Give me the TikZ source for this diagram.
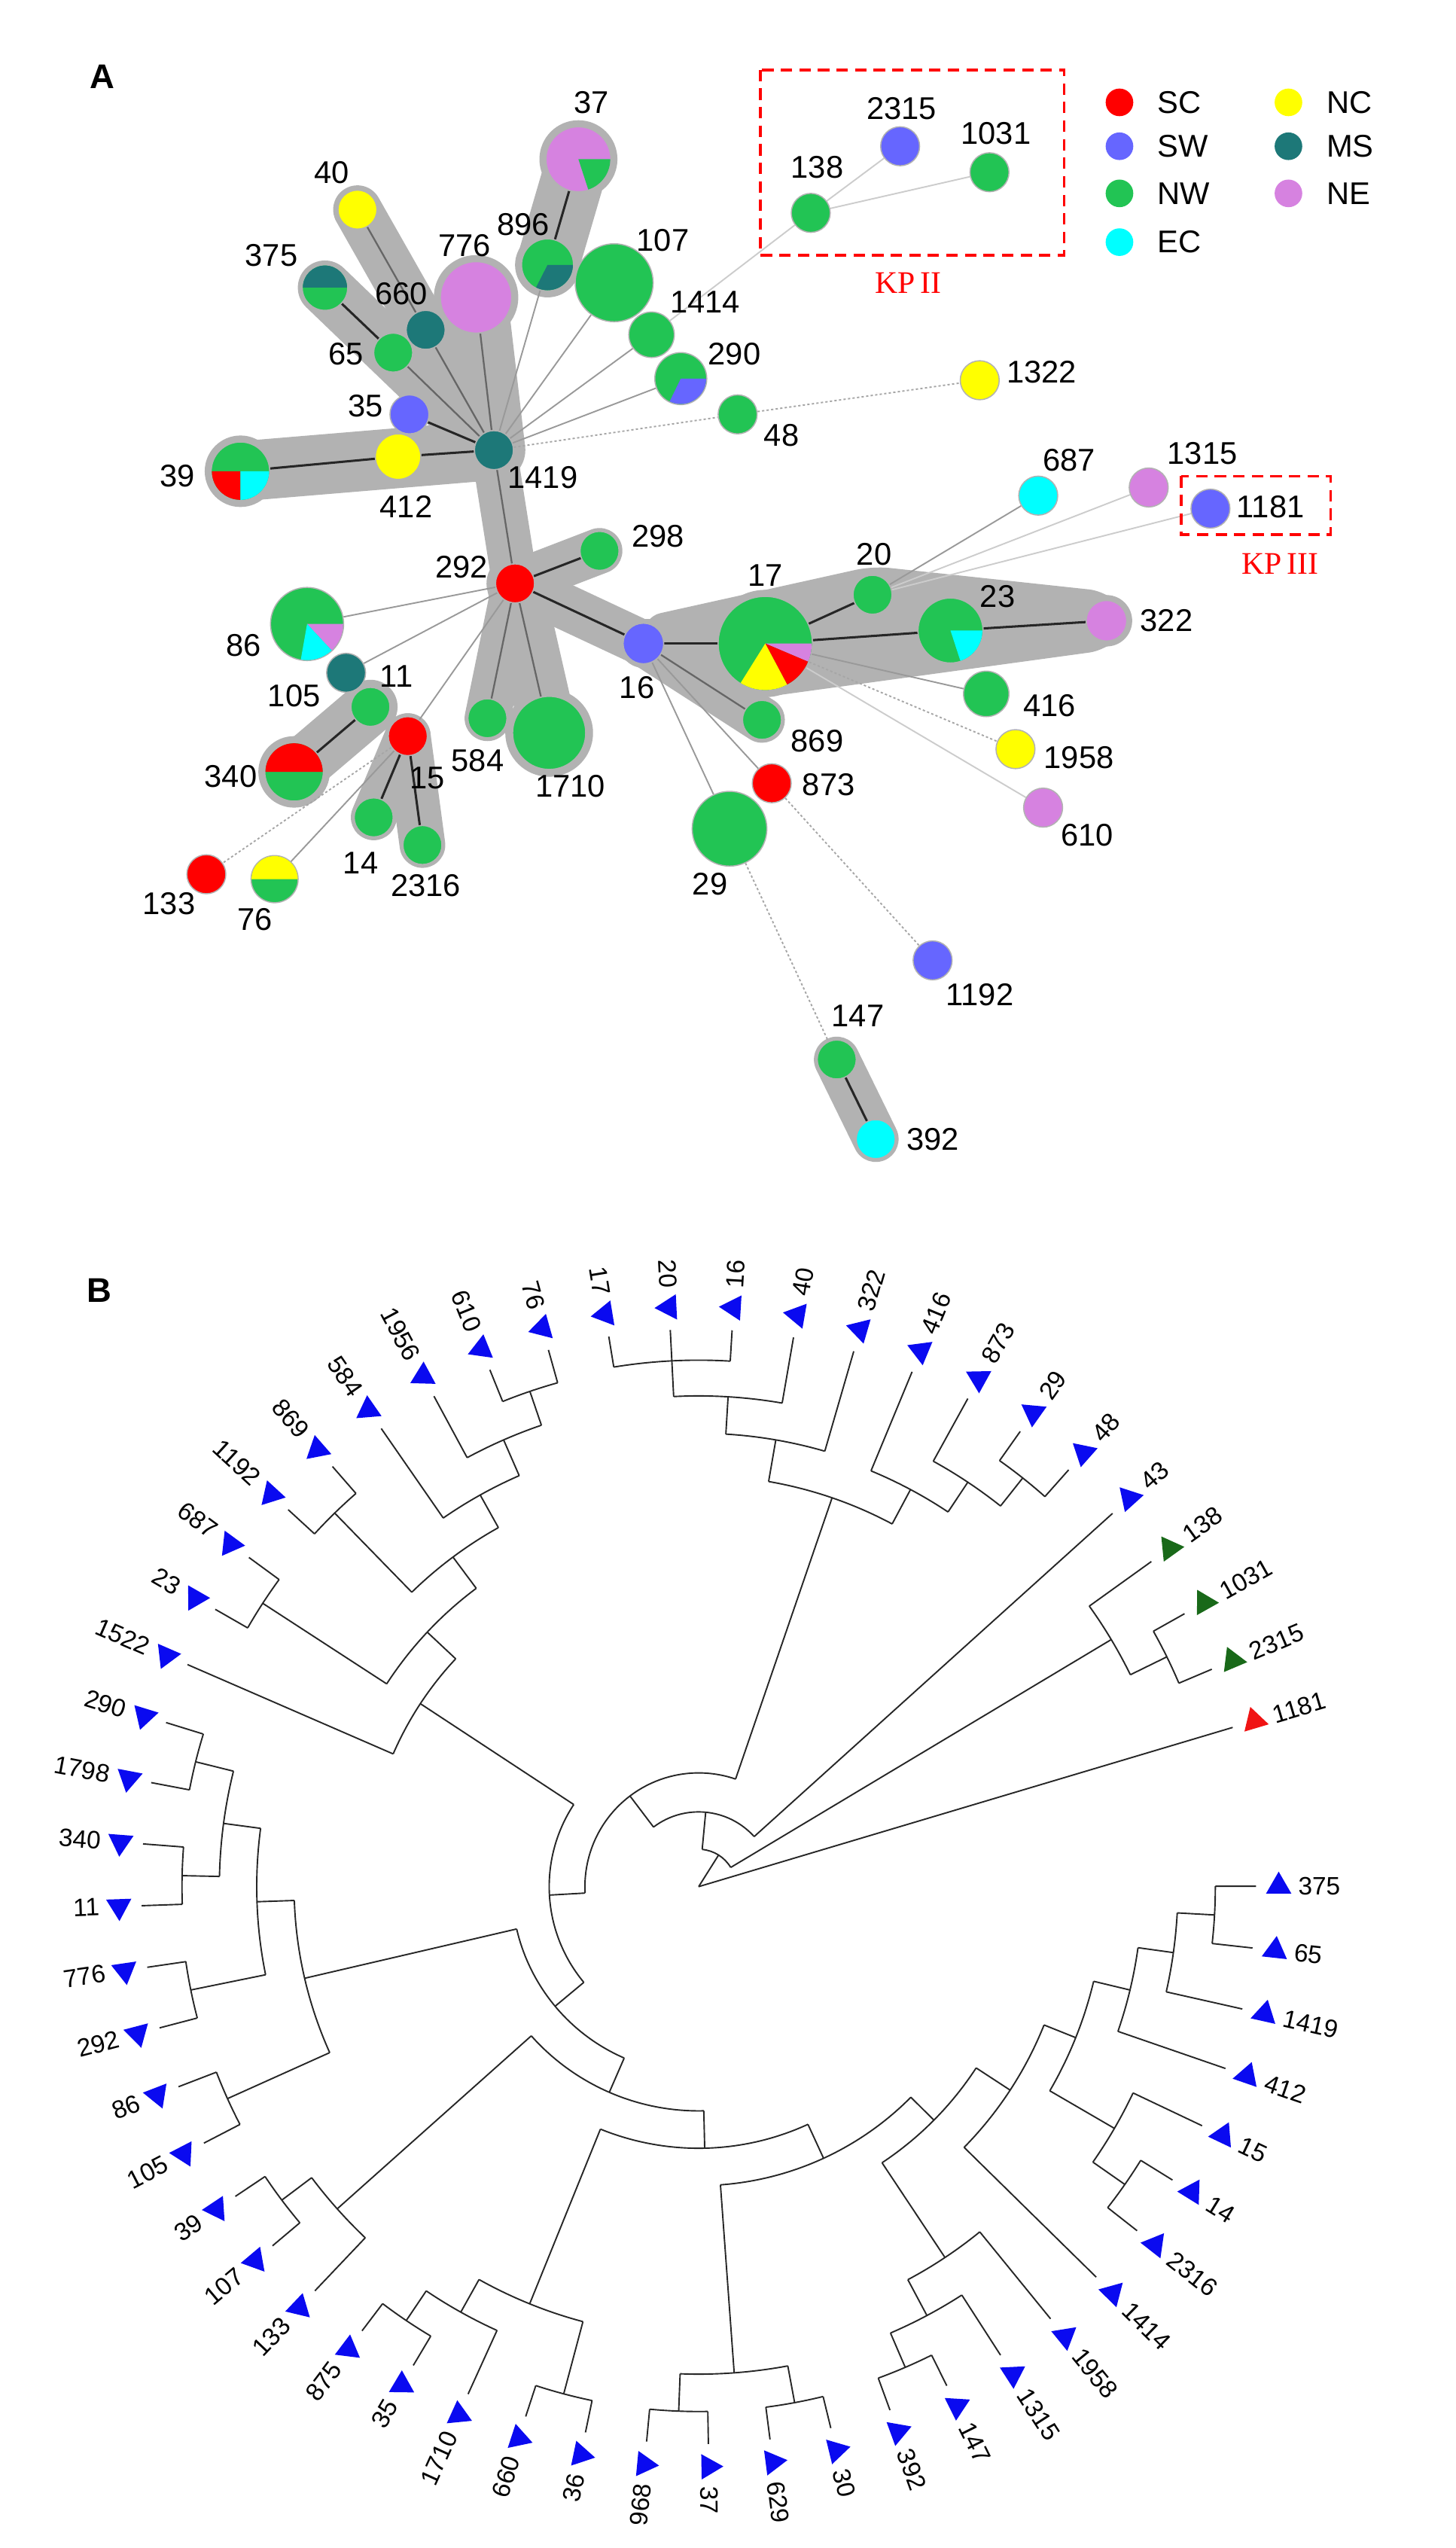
\documentclass[tikz,border=0pt]{standalone}
\usepackage{fontspec}
\setmainfont{Liberation Sans}
\newfontfamily\kpfont{Liberation Serif}
\usepackage{tikz}
\usetikzlibrary{shapes.geometric,positioning}
\definecolor{colSC}{RGB}{255,0,0}
\definecolor{colSW}{RGB}{102,102,255}
\definecolor{colNW}{RGB}{34,196,84}
\definecolor{colEC}{RGB}{0,255,255}
\definecolor{colNC}{RGB}{255,255,0}
\definecolor{colMS}{RGB}{29,120,120}
\definecolor{colNE}{RGB}{214,130,224}
\definecolor{trB}{RGB}{10,10,240}
\definecolor{trG}{RGB}{25,105,25}
\definecolor{trR}{RGB}{240,20,20}
\pgfdeclarelayer{bands}
\pgfdeclarelayer{links}
\pgfsetlayers{bands,links,main}
\newcommand{\piepart}[5]{\fill[#2] (#1.center) -- ++(#3:#5) arc[start angle=#3,end angle=#4,radius=#5] -- cycle;}

\begin{document}
\begin{tikzpicture}[x={(0.02cm,0)},y={(0,-0.02cm)},font=\fontsize{11}{13}\selectfont,
  stn/.style={circle,draw=black!30,line width=0.4pt,inner sep=0pt,minimum size=#1},
  lbl/.style={inner sep=1pt},
  lnk/.style={black!85,line width=0.8pt},
  lnkm/.style={black!60,line width=0.6pt},
  lnkg/.style={black!40,line width=0.5pt},
  lnkl/.style={black!20,line width=0.5pt},
  lnkd/.style={black!35,line width=0.5pt,dash pattern=on 0.8pt off 0.8pt},
  band/.style={draw=gray!60,line width=#1,line cap=round},
  kpbox/.style={draw=red,line width=0.9pt,dash pattern=on 4pt off 2.5pt},
  kplab/.style={text=red,font=\kpfont\fontsize{11}{13}\selectfont},
  legdot/.style={circle,inner sep=0pt,minimum size=0.34cm},
  treeline/.style={black!85,line width=0.5pt},
  tri/.style={regular polygon,regular polygon sides=3,inner sep=0pt,minimum size=0.36cm},
  leaf/.style={font=\fontsize{8.8}{10}\selectfont,inner sep=1pt}]
\useasboundingbox (0,0) rectangle (896,1568);
\node[font=\fontsize{12}{14}\selectfont\bfseries] (pA) at (63,47) {A};
\node[font=\fontsize{12}{14}\selectfont\bfseries] (pB) at (61,794) {B};
% ---------- panel A: stations
\node[stn=0.80cm,fill=colNE] (st37) at (356,98) {};
\node[stn=0.48cm,fill=colNC] (st40) at (220,129) {};
\node[stn=0.56cm,fill=colNW] (st375) at (200,177) {};
\node[stn=0.48cm,fill=colMS] (st660) at (262,203) {};
\node[stn=0.88cm,fill=colNE] (st776) at (293,183) {};
\node[stn=0.64cm,fill=colNW] (st896) at (337,163) {};
\node[stn=0.96cm,fill=colNW] (st107) at (378,174) {};
\node[stn=0.56cm,fill=colNW] (st1414) at (401,206) {};
\node[stn=0.48cm,fill=colNW] (st65) at (242,217) {};
\node[stn=0.64cm,fill=colNW] (st290) at (419,233) {};
\node[stn=0.48cm,fill=colNW] (st48) at (454,255) {};
\node[stn=0.48cm,fill=colSW] (st35) at (252,255) {};
\node[stn=0.56cm,fill=colNC] (st412) at (245,281) {};
\node[stn=0.48cm,fill=colMS] (st1419) at (304,277) {};
\node[stn=0.72cm,fill=colNW] (st39) at (148,290) {};
\node[stn=0.48cm,fill=colSC] (st292) at (317,359) {};
\node[stn=0.48cm,fill=colNW] (st298) at (369,339) {};
\node[stn=0.48cm,fill=colNW] (st138) at (499,131) {};
\node[stn=0.48cm,fill=colSW] (st2315) at (554,90) {};
\node[stn=0.48cm,fill=colNW] (st1031) at (609,106) {};
\node[stn=0.48cm,fill=colNC] (st1322) at (603,234) {};
\node[stn=0.48cm,fill=colEC] (st687) at (639,305) {};
\node[stn=0.48cm,fill=colNE] (st1315) at (707,300) {};
\node[stn=0.48cm,fill=colSW] (st1181) at (745,313) {};
\node[stn=0.48cm,fill=colNW] (st20) at (537,366) {};
\node[stn=1.16cm,fill=colNW] (st17) at (471,396) {};
\node[stn=0.50cm,fill=colSW] (st16) at (396,396) {};
\node[stn=0.80cm,fill=colNW] (st23) at (585,388) {};
\node[stn=0.50cm,fill=colNE] (st322) at (681,382) {};
\node[stn=0.56cm,fill=colNW] (st416) at (607,427) {};
\node[stn=0.48cm,fill=colNW] (st869) at (469,443) {};
\node[stn=0.48cm,fill=colNC] (st1958) at (625,461) {};
\node[stn=0.48cm,fill=colSC] (st873) at (475,482) {};
\node[stn=0.48cm,fill=colNE] (st610) at (642,497) {};
\node[stn=0.92cm,fill=colNW] (st29) at (449,510) {};
\node[stn=0.48cm,fill=colSW] (st1192) at (574,591) {};
\node[stn=0.48cm,fill=colNW] (st147) at (515,652) {};
\node[stn=0.48cm,fill=colEC] (st392) at (539,701) {};
\node[stn=0.90cm,fill=colNW] (st86) at (189,384) {};
\node[stn=0.48cm,fill=colMS] (st105) at (213,414) {};
\node[stn=0.48cm,fill=colNW] (st11) at (228,435) {};
\node[stn=0.72cm,fill=colNW] (st340) at (181,475) {};
\node[stn=0.48cm,fill=colSC] (st15) at (251,453) {};
\node[stn=0.48cm,fill=colNW] (st584) at (300,442) {};
\node[stn=0.90cm,fill=colNW] (st1710) at (338,451) {};
\node[stn=0.48cm,fill=colNW] (st14) at (230,503) {};
\node[stn=0.48cm,fill=colNW] (st2316) at (260,520) {};
\node[stn=0.48cm,fill=colSC] (st133) at (127,538) {};
\node[stn=0.58cm,fill=colNW] (st76) at (169,541) {};
% pie slices
\piepart{st37}{colNW}{0}{72}{19.6}
\piepart{st896}{colMS}{0}{117}{15.6}
\piepart{st375}{colMS}{180}{360}{13.6}
\piepart{st290}{colSW}{0}{116}{15.6}
\piepart{st39}{colSC}{90}{180}{17.6}
\piepart{st39}{colEC}{0}{90}{17.6}
\piepart{st17}{colNE}{0}{23}{28.6}
\piepart{st17}{colSC}{23}{62}{28.6}
\piepart{st17}{colNC}{62}{122}{28.6}
\piepart{st23}{colEC}{0}{72}{19.6}
\piepart{st86}{colNE}{0}{47}{22.2}
\piepart{st86}{colEC}{47}{100}{22.2}
\piepart{st340}{colSC}{180}{360}{17.6}
\piepart{st76}{colNC}{180}{360}{14.2}
% labels
\foreach \nm/\px/\py in {37/364/63,40/204/106,375/167/157,660/247/181,65/213/218,776/286/151,
  896/322/138,107/408/148,1414/434/186,290/452/218,48/481/268,35/225/250,412/250/312,
  1419/334/294,39/109/293,292/284/349,298/405/330,2315/555/67,1031/613/82,138/503/103,
  1322/641/229,687/658/283,1315/740/279,1181/782/312,20/538/341,17/471/354,16/392/423,
  23/614/367,322/718/382,416/646/434,869/503/456,1958/664/466,873/510/483,610/669/514,
  29/437/544,1192/603/612,147/528/625,392/574/701,86/150/397,105/181/428,11/244/416,
  340/142/478,15/263/479,584/294/468,1710/351/484,14/222/531,2316/262/545,133/104/556,76/157/566}
  \node[lbl] (lb\nm) at (\px,\py) {\nm};
% links
\begin{pgfonlayer}{links}
\foreach \u/\v in {37/896,375/65,35/1419,412/1419,39/412,292/298,16/17,17/20,17/23,23/322,
  11/340,15/14,15/2316,147/392,292/16}
  \draw[lnk] (st\u) -- (st\v);
\foreach \u/\v in {1419/292,292/584,292/1710,16/869,65/1419,40/660,660/1419,776/1419}
  \draw[lnkm] (st\u) -- (st\v);
\foreach \u/\v in {896/1419,107/1419,1414/1419,290/1419,16/873,16/29,17/416,20/687,
  292/86,292/105,292/15,15/76}
  \draw[lnkg] (st\u) -- (st\v);
\foreach \u/\v in {20/1315,20/1181,17/610,1414/138,138/2315,138/1031}
  \draw[lnkl] (st\u) -- (st\v);
\foreach \u/\v in {1419/48,48/1322,17/1958,873/1192,29/147,15/133}
  \draw[lnkd] (st\u) -- (st\v);
\end{pgfonlayer}
% grey clusters
\begin{pgfonlayer}{bands}
\fill[white] (0,0) rectangle (896,1568);
\foreach \u/\v/\w in {37/896/22pt,40/1419/17pt,375/1419/19pt,776/1419/22pt,39/1419/21pt,
  1419/292/16pt,292/298/16pt,292/16/16pt,292/584/16pt,292/1710/20pt,16/17/17pt,17/20/16pt,
  16/869/16pt,11/340/19pt,15/14/16pt,15/2316/16pt,147/392/16pt,17/322/18pt}
  \draw[band=\w] (st\u.center) -- (st\v.center);
\foreach \u/\rr in {37/24,776/26,39/22,1710/27,17/33,23/24,340/22,896/20}
  \fill[gray!60] (st\u.center) circle[radius=\rr];
\fill[gray!60,rounded corners=6pt] ([yshift=2pt]st16.north) -- ([yshift=3pt]st20.north)
  -- ([yshift=3pt]st322.north) -- ([xshift=3pt]st322.east) -- ([yshift=-3pt]st322.south)
  -- ([yshift=-2pt]st17.south) -- ([yshift=-2pt]st16.south) -- cycle;
\end{pgfonlayer}
% KP boxes
\draw[kpbox] (468,43) rectangle (655,157);
\node[kplab] (kp2) at (559,174) {KP\,II};
\draw[kpbox] (727,293) rectangle (819,329);
\node[kplab] (kp3) at (788,347) {KP\,III};
% legend
\node[legdot,fill=colSC] (dSC) at (689,63) {};
\node[legdot,fill=colSW] (dSW) at (689,90) {};
\node[legdot,fill=colNW] (dNW) at (689,119) {};
\node[legdot,fill=colEC] (dEC) at (689,149) {};
\node[legdot,fill=colNC] (dNC) at (793,63) {};
\node[legdot,fill=colMS] (dMS) at (793,90) {};
\node[legdot,fill=colNE] (dNE) at (793,119) {};
\foreach \g in {SC,SW,NW,EC,NC,MS,NE}
  \node[lbl,right=0.25cm of d\g] (t\g) {\g};
% ---------- panel B: circular tree
\begin{scope}[shift={(430,1161)},y={(0,0.02cm)}]
\foreach \rr/\p/\q in {23/30.91/84.595,46/42.04/127.15,70/71.0575/183.24,253/61.915/80.20,
  277/56.35/67.48,299/51.58/61.12,321/48.40/54.76,279/73.84/86.56,302/80.20/92.92,
  324/86.56/99.28,296/26.14/35.68,321/22.96/29.32,92/146.68/219.80,205/136.845/156.52,
  229/126.7075/146.98,253/119.155/134.26,276/113.59/124.72,300/108.82/118.36,
  322/105.64/112.00,321/131.08/137.44,320/143.80/150.16,115/193.09/246.515,
  249/181.96/204.22,272/172.42/191.50,295/166.06/178.78,319/162.88/169.24,
  318/175.60/181.96,319/188.32/194.68,318/201.04/207.40,138/221.71/271.32,
  298/216.94/226.48,321/213.76/220.12,161/247.945/294.70,277/240.79/255.10,
  300/236.02/245.56,322/232.84/239.20,323/251.92/258.28,184/274.18/315.22,
  300/267.82/280.54,323/264.64/271.00,323/277.36/283.72,204/303.595/326.85,
  274/298.03/309.16,299/293.26/302.80,322/290.08/296.44,229/315.52/338.1775,
  250/329.83/346.525,296/325.06/334.60,320/321.88/328.24,273/340.96/352.09,
  295/347.32/356.86,318/353.68/360.04}
  \draw[treeline] (\p:\rr) arc[start angle=\p,end angle=\q,radius=\rr];
\foreach \an/\p/\q in {16.60/0/343,57.75/0/23,30.91/23/296,84.595/23/46,42.04/46/343,
  127.15/46/70,71.0575/70/253,183.24/70/92,61.915/253/277,80.20/253/279,67.48/277/343,
  56.35/277/299,61.12/299/343,51.58/299/321,54.76/321/343,48.40/321/343,73.84/279/343,
  86.56/279/302,80.20/302/343,92.92/302/324,86.56/324/343,92.92/324/343,99.28/324/343,
  35.68/296/343,26.14/296/321,29.32/321/343,22.96/321/343,
  146.68/92/205,219.80/92/115,136.845/205/229,156.52/205/343,126.7075/229/253,
  146.98/229/320,119.155/253/276,134.26/253/321,113.59/276/300,124.72/276/343,
  108.82/300/322,118.36/300/343,105.64/322/343,112.00/322/343,131.08/321/343,
  137.44/321/343,143.80/320/343,150.16/320/343,
  193.09/115/249,246.515/115/138,181.96/249/272,204.22/249/318,172.42/272/295,
  191.50/272/319,166.06/295/319,178.78/295/318,162.88/319/343,169.24/319/343,
  175.60/318/343,181.96/318/343,188.32/319/343,194.68/319/343,201.04/318/343,
  207.40/318/343,221.71/138/298,271.32/138/161,216.94/298/321,226.48/298/343,
  213.76/321/343,220.12/321/343,247.945/161/277,294.70/161/184,240.79/277/300,
  255.10/277/323,236.02/300/322,245.56/300/343,232.84/322/343,239.20/322/343,
  251.92/323/343,258.28/323/343,274.18/184/300,315.22/184/204,267.82/300/323,
  280.54/300/323,264.64/323/343,271.00/323/343,277.36/323/343,283.72/323/343,
  303.595/204/274,326.85/204/229,298.03/274/299,309.16/274/343,293.26/299/322,
  302.80/299/343,290.08/322/343,296.44/322/343,315.52/229/343,338.1775/229/250,
  329.83/250/296,346.525/250/273,325.06/296/320,334.60/296/343,321.88/320/343,
  328.24/320/343,340.96/273/343,352.09/273/295,347.32/295/343,356.86/295/318,
  353.68/318/343,360.04/318/343}
  \draw[treeline] (\an:\p) -- (\an:\q);
% tips, right half
\foreach \i/\nm/\c in {0/1181/trR,1/2315/trG,2/1031/trG,3/138/trG,4/43/trB,5/48/trB,6/29/trB,
  7/873/trB,8/416/trB,9/322/trB,10/40/trB,11/16/trB,40/37/trB,41/629/trB,42/30/trB,43/392/trB,
  44/147/trB,45/1315/trB,46/1958/trB,47/1414/trB,48/2316/trB,49/14/trB,50/15/trB,51/412/trB,
  52/1419/trB,53/65/trB,54/375/trB}{
  \pgfmathsetmacro{\a}{16.6+6.36*\i}
  \node[tri,fill=\c,rotate=\a] (tp\nm) at (\a:357) {};
  \node[leaf,rotate=\a,anchor=west] (tg\nm) at (\a:367) {\nm};}
% tips, left half
\foreach \i/\nm in {12/20,13/17,14/76,15/610,16/1956,17/584,18/869,19/1192,20/687,21/23,
  22/1522,23/290,24/1798,25/340,26/11,27/776,28/292,29/86,30/105,31/39,32/107,33/133,
  34/875,35/35,36/1710,37/660,38/36,39/968}{
  \pgfmathsetmacro{\a}{16.6+6.36*\i}
  \pgfmathsetmacro{\b}{\a+180}
  \node[tri,fill=trB,rotate=\a] (tp\nm) at (\a:357) {};
  \node[leaf,rotate=\b,anchor=east] (tg\nm) at (\a:367) {\nm};}
\end{scope}
\end{tikzpicture}
\end{document}
